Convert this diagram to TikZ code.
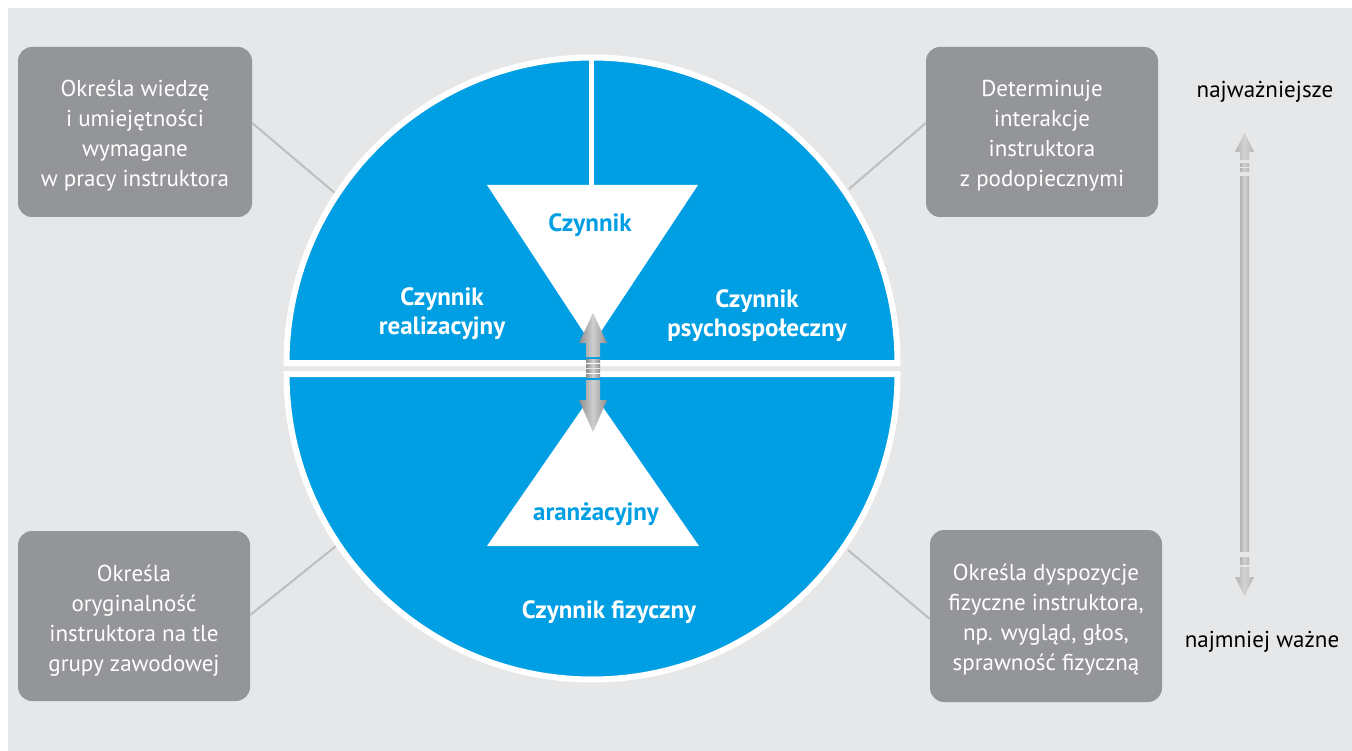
\documentclass[tikz,border=0pt]{standalone}
\usepackage{fontspec}
\setmainfont{PT Sans}
\usetikzlibrary{calc}
\definecolor{panel}{HTML}{E6E7E8}
\definecolor{cyanblue}{HTML}{009FE3}
\definecolor{boxgray}{HTML}{939598}
\definecolor{linegray}{HTML}{BCBEC0}
\definecolor{arrowedge}{HTML}{8E8E8E}
\definecolor{arrowmid}{HTML}{CFCFCF}
\definecolor{scaleedge}{HTML}{B3B3B3}
\definecolor{scalemid}{HTML}{D3D3D3}
\begin{document}
\begin{tikzpicture}[x=1pt,y=-1pt,
  infobox/.style={fill=boxgray, rounded corners=14pt, inner sep=0pt},
  infotext/.style={text=white, align=center, font=\fontsize{23}{30}\selectfont},
  connector/.style={draw=linegray, line width=2pt},
  factor/.style={text=white, align=center, font=\bfseries\fontsize{25}{29}\selectfont},
  innerfactor/.style={text=cyanblue, align=center, font=\bfseries\fontsize{25}{29}\selectfont},
  scalelabel/.style={text=black, font=\fontsize{23}{26}\selectfont},
  centerarrow/.style={left color=arrowedge, right color=arrowedge, middle color=arrowmid},
  scalearrow/.style={left color=scaleedge, right color=scaleedge, middle color=scalemid}]

% page and panel
\useasboundingbox (0,0) rectangle (1352,751);
\fill[white] (0,0) rectangle (1352,751);
\fill[panel] (8,8) rectangle (1352,751);

% description boxes
\node[infobox, minimum width=234pt, minimum height=170pt] (tl) at (135,132) {};
\node[infobox, minimum width=232pt, minimum height=170pt] (tr) at (1042,132) {};
\node[infobox, minimum width=232pt, minimum height=170pt] (bl) at (134,616) {};
\node[infobox, minimum width=232pt, minimum height=172pt] (br) at (1046,616) {};

\node[infotext] (tltext) at ($(tl.center)+(0,4)$)
  {Określa wiedzę\\ i umiejętności\\ wymagane\\ w pracy instruktora};
\node[infotext] (trtext) at ($(tr.center)+(0,4)$)
  {Determinuje\\ interakcje\\ instruktora\\ z podopiecznymi};
\node[infotext] (bltext) at ($(bl.center)+(0,5)$)
  {Określa\\ oryginalność\\ instruktora na tle\\ grupy zawodowej};
\node[infotext] (brtext) at ($(br.center)+(0,4)$)
  {Określa dyspozycje\\ fizyczne instruktora,\\ np. wygląd, głos,\\ sprawność fizyczną};

% points where the connectors meet the circle
\coordinate (ctl) at (336,194);
\coordinate (ctr) at (849,189);
\coordinate (cbl) at (336,546);
\coordinate (cbr) at (848,550);

\draw[connector] (ctl) -- ($(tl.east)+(0,-9)$);
\draw[connector] (ctr) -- ($(tr.west)+(0,-9)$);
\draw[connector] (cbl) -- ($(bl.east)+(0,-1)$);
\draw[connector] (cbr) -- ($(br.west)+(0,3)$);

% the two halves of the circle
\filldraw[fill=cyanblue, draw=white, line width=6pt]
  (286.5,363) arc[start angle=180, end angle=0, radius=305.5pt] -- cycle;
\filldraw[fill=cyanblue, draw=white, line width=6pt]
  (286.5,374) arc[start angle=180, end angle=360, radius=305.5pt] -- cycle;
\draw[white, line width=5pt] (591.5,60) -- (591.5,190);

% the two triangles
\fill[white] (487,185) -- (698,185) -- (592,345) -- cycle;
\fill[white] (487,546) -- (699,546) -- (593,393) -- cycle;

% double arrow between the triangles
\shade[centerarrow] (586,357) -- (586,343) -- (579,343) -- (593,313)
  -- (607,343) -- (600,343) -- (600,357) -- cycle;
\foreach \y in {359.5,364.5,369.5,374.5}
  \shade[centerarrow] (586,\y) rectangle (600,\y+3);
\shade[centerarrow] (586,380) -- (586,400) -- (579,400) -- (593,432)
  -- (607,400) -- (600,400) -- (600,380) -- cycle;

% labels inside the circle
\node[factor] (real) at (442,314) {Czynnik\\ realizacyjny};
\node[factor] (psych) at (757,316) {Czynnik\\ psychospołeczny};
\node[factor] (fiz) at (609,612) {Czynnik fizyczny};
\node[innerfactor] (top) at (590,225) {Czynnik};
\node[innerfactor] (bottom) at (596,514) {aranżacyjny};

% importance scale
\node[scalelabel] (most) at (1265,92) {najważniejsze};
\node[scalelabel] (least) at (1262,642) {najmniej ważne};
\shade[scalearrow] (1240,160) -- (1240,152) -- (1235,152) -- (1244.5,133)
  -- (1254,152) -- (1249,152) -- (1249,160) -- cycle;
\shade[scalearrow] (1240,164) rectangle (1249,167);
\shade[scalearrow] (1240,168.5) rectangle (1249,171.5);
\shade[scalearrow] (1240,177) rectangle (1249,551);
\shade[scalearrow] (1240,557) rectangle (1249,560);
\shade[scalearrow] (1240,561.5) rectangle (1249,564.5);
\shade[scalearrow] (1240,567) -- (1240,577) -- (1235,577) -- (1244.5,596)
  -- (1254,577) -- (1249,577) -- (1249,567) -- cycle;
\end{tikzpicture}
\end{document}
